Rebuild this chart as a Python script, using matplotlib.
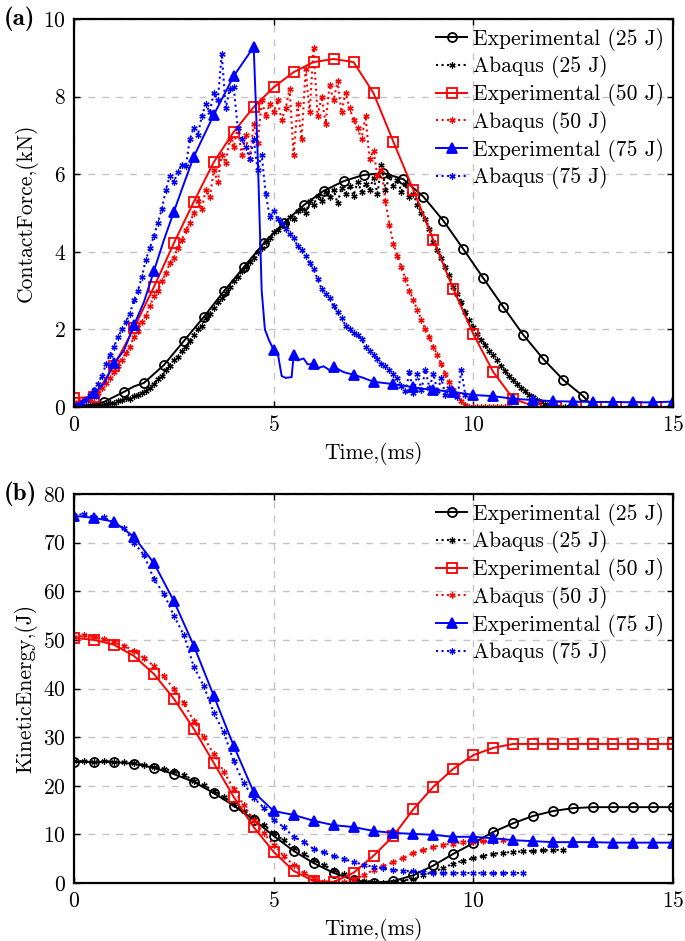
import numpy as np
import matplotlib
matplotlib.use("Agg")
import matplotlib.pyplot as plt

plt.rcParams['font.family'] = 'serif'
plt.rcParams['font.serif'] = ['cmr10', 'DejaVu Serif']
plt.rcParams['mathtext.fontset'] = 'cm'
plt.rcParams['axes.formatter.use_mathtext'] = True
plt.rcParams['axes.unicode_minus'] = False

labels = ["Experimental (25 J)", "Abaqus (25 J)", "Experimental (50 J)",
          "Abaqus (50 J)", "Experimental (75 J)", "Abaqus (75 J)"]

# ---------------- (a) contact force ----------------
exp25_t = [0, 0.4, 0.75, 1.25, 1.5, 1.75, 2.25, 2.75, 3.25, 3.75, 4.25, 4.75, 5.25, 5.75, 6.25,
           6.75, 7.25, 7.75, 8.25, 8.75, 9.25, 9.75, 10.25, 10.75, 11.25, 11.75, 12.25, 12.75,
           13.0, 15.0]
exp25_F = [0, 0.05, 0.13, 0.39, 0.53, 0.62, 1.08, 1.70, 2.32, 2.98, 3.60, 4.22, 4.74, 5.20, 5.57,
           5.82, 5.98, 6.03, 5.87, 5.42, 4.80, 4.07, 3.32, 2.58, 1.86, 1.24, 0.70, 0.28,
           0.0, 0.0]
exp25_marks = [0, 2, 3, 5, 6, 7, 8, 9, 10, 11, 12, 13, 14, 15, 16, 17, 18, 19, 20, 21, 22, 23,
               24, 25, 26, 27]

exp50_t = [0, 0.5, 1.0, 1.5, 2.0, 2.5, 3.0, 3.5, 4.0, 4.5, 5.0, 5.5, 6.0, 6.5, 7.0, 7.5, 8.0,
           8.5, 9.0, 9.5, 10.0, 10.5, 11.0, 11.58, 12.08, 12.58, 13.08, 13.58, 14.08, 14.58, 15.0]
exp50_F = [0.23, 0.26, 1.06, 2.03, 3.09, 4.22, 5.29, 6.31, 7.09, 7.73, 8.24, 8.63, 8.89, 8.97,
           8.89, 8.09, 6.83, 5.59, 4.30, 3.04, 1.88, 0.90, 0.21, 0.0, 0.0, 0.0, 0.0, 0.0, 0.0,
           0.0, 0.0]

exp75_t = [0, 0.25, 0.5, 0.75, 1.0, 1.25, 1.5, 1.75, 2.0, 2.25, 2.5, 2.75, 3.0, 3.5, 4.0, 4.5,
           4.6, 4.7, 4.78, 4.88, 5.0, 5.1, 5.2, 5.3, 5.45, 5.5, 5.6, 5.75, 5.85, 6.0, 6.1, 6.25,
           6.4, 6.5, 6.75, 7.0, 7.25, 7.5, 7.75, 8.0, 8.25, 8.5, 8.75, 9.0, 9.5, 10.0, 10.5,
           11.0, 11.5, 12.0, 12.5, 13.0, 13.5, 14.0, 14.5, 15.0]
exp75_F = [0, 0.2, 0.35, 0.6, 1.13, 1.45, 2.11, 2.7, 3.5, 4.3, 5.03, 5.75, 6.45, 7.53, 8.53,
           9.28, 6.5, 3.0, 2.0, 1.73, 1.47, 1.4, 0.8, 0.75, 0.77, 1.34, 1.2, 1.25, 1.1, 1.11,
           1.0, 1.05, 0.95, 1.04, 0.9, 0.83, 0.75, 0.65, 0.62, 0.59, 0.55, 0.51, 0.47, 0.44,
           0.39, 0.31, 0.28, 0.21, 0.18, 0.15, 0.14, 0.13, 0.13, 0.12, 0.12, 0.14]

# Abaqus force, sampled every 0.1 ms
abq25_F = [0, 0, 0.02, 0.03, 0.05, 0.04, 0.06, 0.05, 0.08, 0.1,
           0.1, 0.15, 0.18, 0.22, 0.2, 0.28, 0.32, 0.36, 0.4, 0.5,
           0.6, 0.72, 0.8, 0.95, 1.05, 1.2, 1.3, 1.45, 1.55, 1.7,
           1.85, 2.0, 2.1, 2.3, 2.4, 2.55, 2.7, 2.8, 2.95, 3.1,
           3.25, 3.35, 3.5, 3.6, 3.75, 3.85, 4.0, 4.1, 4.25, 4.35,
           4.5, 4.55, 4.7, 4.75, 4.9, 4.85, 5.05, 5.1, 5.0, 5.3,
           5.2, 5.45, 5.3, 5.55, 5.4, 5.6, 5.25, 5.65, 5.5, 5.7,
           5.45, 5.8, 5.55, 5.75, 5.6, 5.9, 5.5, 6.25, 5.6, 5.95,
           5.7, 5.85, 5.55, 5.75, 5.4, 5.5, 5.2, 5.0, 4.85, 4.6,
           4.25, 4.05, 3.85, 3.6, 3.4, 3.1, 2.9, 2.7, 2.45, 2.25,
           2.05, 1.88, 1.72, 1.6, 1.45, 1.35, 1.2, 1.05, 0.92, 0.8,
           0.7, 0.6, 0.5, 0.4, 0.32, 0.25, 0.18, 0.12, 0.07, 0.03,
           0.0, 0.0, 0.0, 0.0, 0.0]
abq50_F = [0.1, 0.12, 0.15, 0.18, 0.2, 0.25, 0.35, 0.5, 0.62, 0.75,
           0.9, 1.05, 1.2, 1.4, 1.55, 1.8, 1.95, 2.2, 2.35, 2.6,
           2.85, 3.0, 3.25, 3.45, 3.7, 3.85, 4.1, 4.3, 4.55, 4.75,
           5.0, 5.3, 5.1, 5.6, 5.4, 6.1, 5.8, 6.5, 6.3, 6.9,
           6.7, 7.2, 6.5, 7.0, 6.4, 7.3, 6.8, 7.9, 7.5, 7.8,
           7.6, 7.9, 7.4, 7.7, 8.2, 6.5, 7.8, 6.9, 8.7, 7.6,
           9.25, 7.5, 8.0, 7.3, 8.3, 7.9, 8.4, 7.6, 8.1, 7.7,
           7.4, 7.2, 6.9, 7.5, 6.4, 6.6, 5.95, 6.1, 5.3, 4.7,
           4.2, 3.9, 3.6, 3.3, 3.0, 2.75, 2.5, 2.25, 2.0, 1.8,
           1.55, 1.35, 1.1, 0.85, 0.65, 0.45, 0.3, 0.15, 0.05, 0.0,
           0.0, 0.0, 0.0, 0.0, 0.0, 0.0, 0.0, 0.0, 0.0, 0.0]
abq75_F = [0, 0.05, 0.1, 0.18, 0.3, 0.45, 0.6, 0.8, 1.1, 1.35,
           1.55, 1.8, 2.0, 2.2, 2.4, 2.75, 3.0, 3.35, 3.8, 4.1,
           4.4, 4.75, 5.1, 5.6, 5.95, 5.8, 6.05, 6.25, 6.2, 6.9,
           7.2, 7.0, 7.5, 7.8, 7.6, 8.1, 7.9, 9.1, 7.7, 8.2,
           8.25, 7.2, 6.9, 6.7, 6.4, 6.9, 6.1, 6.5, 5.5, 4.9,
           5.05, 4.85, 4.75, 4.6, 4.45, 4.35, 4.15, 4.05, 3.9, 3.7,
           3.55, 3.3, 3.05, 2.9, 2.8, 2.6, 2.45, 2.3, 2.1, 2.0,
           1.9, 1.85, 1.75, 1.55, 1.45, 1.35, 1.25, 1.1, 1.05, 0.95,
           0.85, 0.75, 0.55, 0.4, 0.9, 0.35, 0.85, 0.45, 0.95, 0.5,
           0.85, 0.4, 0.75, 0.3, 0.5, 0.35, 0.25, 0.95, 0.3]

# ---------------- (b) kinetic energy ----------------
expE_t = [0, 0.5, 1, 1.5, 2, 2.5, 3, 3.5, 4, 4.5, 5, 5.5, 6, 6.5, 7, 7.5, 8, 8.5, 9, 9.5, 10,
          10.5, 11, 11.5, 12, 12.5, 13, 13.5, 14, 14.5, 15]
exp25_E = [24.9, 24.9, 24.9, 24.5, 23.7, 22.4, 20.8, 18.5, 15.9, 13.0, 9.7, 6.6, 4.1, 2.1,
           0.6, 0.0, 0.4, 1.6, 3.6, 6.0, 8.2, 10.5, 12.3, 13.8, 14.8, 15.4, 15.6, 15.6, 15.6,
           15.6, 15.6]
exp50_E = [50.4, 50.0, 49.0, 46.7, 43.0, 37.9, 31.7, 24.7, 17.7, 11.5, 6.4, 2.5, 0.4, 0.2,
           2.1, 5.6, 9.7, 15.2, 19.8, 23.5, 26.3, 27.8, 28.6, 28.6, 28.6, 28.6, 28.6, 28.6,
           28.6, 28.6, 28.6]
exp75_E = [75.5, 75.1, 74.3, 71.2, 65.8, 58.0, 48.8, 38.5, 28.2, 18.7, 14.8, 14.0, 12.8,
           11.9, 11.5, 10.7, 10.3, 10.1, 9.9, 9.5, 9.5, 9.2, 8.8, 8.6, 8.4, 8.4, 8.4, 8.3, 8.3,
           8.3, 8.3]

# Abaqus energy, sampled every 0.25 ms
abq25_E = [25.0, 25.1, 24.9, 25.1,
           24.9, 24.8, 24.6, 24.3,
           23.9, 23.5, 23.0, 22.3,
           21.0, 20.1, 19.0, 17.7,
           16.2, 14.9, 13.5, 12.0,
           10.2, 8.8, 7.3, 6.0,
           4.8, 3.7, 2.7, 1.8,
           1.0, 0.5, 0.2, 0.1,
           0.2, 0.5, 0.9, 1.6,
           2.3, 3.1, 4.0, 4.6,
           5.1, 5.6, 6.0, 6.2,
           6.4, 6.5, 6.6, 6.7,
           6.8, 6.8]
abq50_E = [50.6, 50.9, 50.5, 50.2,
           49.5, 48.8, 47.8, 46.3,
           44.6, 42.5, 39.9, 37.0,
           33.3, 30.0, 26.5, 22.9,
           19.3, 16.0, 13.0, 10.2,
           7.9, 5.6, 3.7, 2.1,
           1.0, 0.3, 0.1, 0.2,
           0.7, 1.6, 2.7, 3.5,
           4.3, 5.2, 6.2, 6.8,
           7.4, 7.9, 8.1, 8.4,
           8.5, 8.6, 8.7, 8.8]
abq75_E = [75.6, 75.9, 75.3, 75.2,
           74.0, 73.0, 70.0, 67.5,
           62.5, 59.5, 55.0, 51.0,
           44.5, 40.5, 35.0, 31.0,
           25.0, 20.5, 17.5, 15.5,
           13.0, 11.5, 9.5, 8.5,
           7.0, 6.3, 5.5, 5.0,
           4.3, 3.8, 3.3, 3.0,
           2.7, 2.5, 2.4, 2.2,
           2.1, 2.1, 2.0, 2.1,
           2.0, 2.1, 2.0, 2.1,
           2.0, 2.1]

FS = 15.5
fig = plt.figure(figsize=(6.85, 9.41), dpi=100)
axA = fig.add_axes([74/685, 1-407/941, 599/685, 388/941])
axB = fig.add_axes([74/685, 1-883/941, 599/685, 389/941])

exp_kw = dict(lw=1.4, ms=6.5, mew=1.3)
abq_kw = dict(ls=':', lw=1.5, marker=(6, 2, 0), ms=4.5, mew=0.9)


def marks_half(t):
    return [i for i, v in enumerate(t) if abs(v * 2 - round(v * 2)) < 1e-6]


def draw(ax, e25, a25, e50, a50, e75, a75):
    ax.plot(*e25[:2], color='black', marker='o', mfc='none', markevery=e25[2], label=labels[0], **exp_kw)
    ax.plot(*a25, color='black', label=labels[1], **abq_kw)
    ax.plot(*e50[:2], color='red', marker='s', mfc='none', markevery=e50[2], label=labels[2], **exp_kw)
    ax.plot(*a50, color='red', label=labels[3], **abq_kw)
    ax.plot(*e75[:2], color='blue', marker='^', mfc='blue', markevery=e75[2], label=labels[4], **exp_kw)
    ax.plot(*a75, color='blue', label=labels[5], **abq_kw)


tA25 = np.arange(len(abq25_F)) * 0.1
tA50 = np.arange(len(abq50_F)) * 0.1
tA75 = np.arange(len(abq75_F)) * 0.1
draw(axA,
     (exp25_t, exp25_F, exp25_marks), (tA25, abq25_F),
     (exp50_t, exp50_F, list(range(len(exp50_t) - 1))), (tA50, abq50_F),
     (exp75_t, exp75_F, marks_half(exp75_t)), (tA75, abq75_F))

tB25 = np.arange(len(abq25_E)) * 0.25
tB50 = np.arange(len(abq50_E)) * 0.25
tB75 = np.arange(len(abq75_E)) * 0.25
allm = list(range(len(expE_t)))
draw(axB,
     (expE_t, exp25_E, allm), (tB25, abq25_E),
     (expE_t, exp50_E, allm), (tB50, abq50_E),
     (expE_t, exp75_E, allm), (tB75, abq75_E))

for ax, ymax, ystep, ylabel, tag in [(axA, 10, 2, 'ContactForce,(kN)', '(a)'),
                                     (axB, 80, 10, 'KineticEnergy,(J)', '(b)')]:
    ax.set_xlim(0, 15)
    ax.set_ylim(0, ymax)
    ax.set_xticks([0, 5, 10, 15])
    ax.set_yticks(np.arange(0, ymax + 1, ystep))
    ax.grid(True, color='#c4c4c4', ls=(0, (5, 5)), lw=1.0)
    ax.set_axisbelow(True)
    ax.tick_params(direction='in', length=4, width=1, labelsize=FS, top=True, right=True, pad=6)
    for s in ax.spines.values():
        s.set_linewidth(1.6)
    ax.set_xlabel('Time,(ms)', fontsize=FS, labelpad=5)
    ax.set_ylabel(ylabel, fontsize=FS, labelpad=4)
    leg = ax.legend(loc='upper right', frameon=False, fontsize=FS, handlelength=1.45,
                    handletextpad=0.28, labelspacing=0.22, borderaxespad=0.1, borderpad=0.3,
                    bbox_to_anchor=(1.0, 1.0))
    ax.text(-0.118, 1.0, tag, transform=ax.transAxes, fontsize=18, family='cmb10',
            ha='left', va='center')

fig.savefig('out.png', dpi=100)
